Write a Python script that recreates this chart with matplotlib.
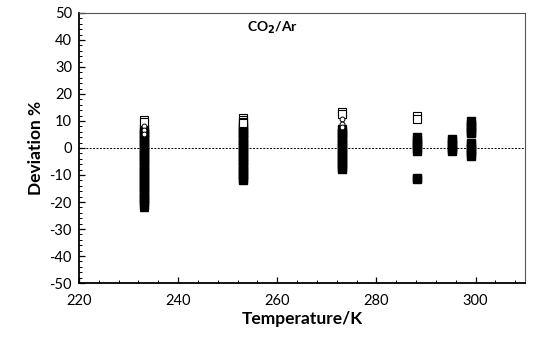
import matplotlib.pyplot as plt
from matplotlib.ticker import MultipleLocator

plt.rcParams['font.family'] = ['Lato', 'DejaVu Sans']
plt.rcParams['axes.unicode_minus'] = False

# deviation of measured data from the model, per isotherm (%)
T_233 = 233.15
T_253 = 253.15
T_273 = 273.15
T_288 = 288.15
T_295 = 295.15
T_299 = 299.15

dev_233_filled = [7, 6, 5, 4, 3, 2, 1, 0, -1, -2, -3, -4, -5, -6, -7, -8, -9, -10,
                  -11, -12, -13, -14, -15, -16, -17, -18, -19, -20, -21]
dev_233_open = [10.5, 9.5]
dev_233_circle = [8.0, 6.5, 5.0]
dev_233_tri = [-22.0, -21.5, -21.0]

dev_253_filled = [8, 7, 6, 5, 4, 3, 2, 1, 0, -1, -2, -3, -4, -5, -6, -7, -8, -9,
                  -10, -11, -11.7]
dev_253_open = [11.0, 10.4, 9.8, 9.2]

dev_273_filled = [7, 6, 5, 4, 3, 2, 1, 0, -1, -2, -3, -4, -5, -6, -7, -7.8]
dev_273_open = [13.3, 12.5]
dev_273_circle = [10.8, 9.0, 7.8]

dev_288_filled = [4.0, 3.0, 2.0, 1.0, 0.0, -1.0, -11.0, -11.5]
dev_288_open = [12.0, 10.8]

dev_295_filled = [3.3, 2.5, 1.5, 0.5, -0.5, -1.0]

dev_299_filled = [10.0, 9.0, 8.0, 7.0, 6.0, 5.4, 1.9, 1.0, 0.0, -1.0, -2.0, -3.0]

filled = [(T_233, dev_233_filled), (T_253, dev_253_filled), (T_273, dev_273_filled),
          (T_288, dev_288_filled), (T_295, dev_295_filled), (T_299, dev_299_filled)]
opened = [(T_233, dev_233_open), (T_253, dev_253_open), (T_273, dev_273_open),
          (T_288, dev_288_open)]
circles = [(T_233, dev_233_circle), (T_273, dev_273_circle)]

fig = plt.figure(figsize=(5.37, 3.49), dpi=100)
ax = fig.add_axes([0.147, 0.189, 0.831, 0.774])

for t, vals in filled:
    ax.plot([t] * len(vals), vals, 's', ms=5.8, color='black', mec='black')
for t, vals in opened:
    ax.plot([t] * len(vals), vals, 's', ms=5.8, mfc='white', mec='black', mew=0.8)
for t, vals in circles:
    ax.plot([t] * len(vals), vals, 'o', ms=3.5, mfc='white', mec='black', mew=0.7)
ax.plot([T_233] * len(dev_233_tri), dev_233_tri, '^', ms=6, color='black')

ax.axhline(0, color='black', lw=0.7, ls=(0, (2, 1.5)), zorder=0)

ax.set_xlim(220, 310)
ax.set_ylim(-50, 50)
ax.xaxis.set_major_locator(MultipleLocator(20))
ax.xaxis.set_minor_locator(MultipleLocator(4))
ax.yaxis.set_major_locator(MultipleLocator(10))
ax.yaxis.set_minor_locator(MultipleLocator(2))
ax.tick_params(which='both', direction='in', labelsize=10.5, color='black')
ax.tick_params(which='major', length=4, width=0.9)
ax.tick_params(which='minor', length=2.5, width=0.7)
ax.tick_params(axis='x', pad=8)
ax.tick_params(axis='y', pad=5)

for side in ['left', 'bottom']:
    ax.spines[side].set_linewidth(1.3)
for side in ['top', 'right']:
    ax.spines[side].set_linewidth(0.8)
    ax.spines[side].set_color('#555555')

ax.set_xlabel('Temperature/K', fontsize=12.5, fontweight='bold', labelpad=2)
ax.set_ylabel('Deviation %', fontsize=12.5, fontweight='bold', labelpad=4)
ax.text(0.433, 0.975, 'CO$_\\mathbf{2}$/Ar', transform=ax.transAxes, ha='center', va='top',
        fontsize=10, fontweight='bold')

fig.savefig('out.png', dpi=100)
